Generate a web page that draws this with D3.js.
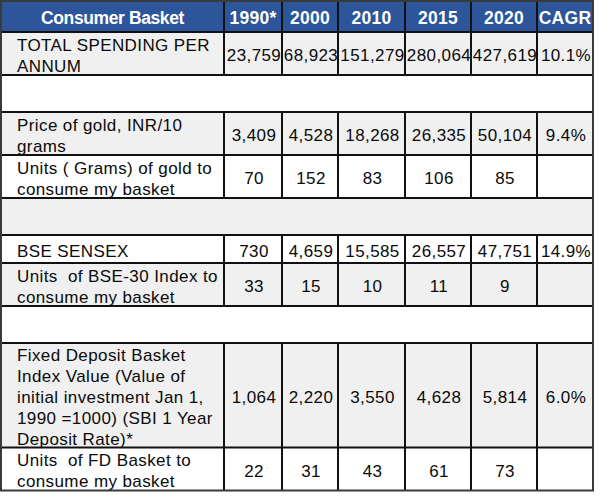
<!DOCTYPE html>
<html><head><meta charset="utf-8">
<script src="https://cdn.jsdelivr.net/npm/d3@7"></script>
<style>
html,body{margin:0;padding:0;background:#fff;}
svg{display:block;}
text{white-space:pre;}
</style></head>
<body>
<svg id="chart" width="608" height="500"></svg>
<script>
// ---- data ----
const headerFirst = "Consumer Basket";
const years = ["1990*", "2000", "2010", "2015", "2020"];
const cagrHeader = "CAGR";

const rowLabels = [
  ["TOTAL SPENDING PER", "ANNUM"],
  [],
  ["Price of gold, INR/10", "grams"],
  ["Units ( Grams) of gold to", "consume my basket"],
  [],
  ["BSE SENSEX"],
  ["Units  of BSE-30 Index to", "consume my basket"],
  [],
  ["Fixed Deposit Basket", "Index Value (Value of", "initial investment Jan 1,", "1990 =1000) (SBI 1 Year", "Deposit Rate)*"],
  ["Units  of FD Basket to", "consume my basket"]
];
const spending = [23759, 68923, 151279, 280064, 427619];
const goldPrice = [3409, 4528, 18268, 26335, 50104];
const goldUnits = [70, 152, 83, 106, 85];
const sensex = [730, 4659, 15585, 26557, 47751];
const sensexUnits = [33, 15, 10, 11, 9];
const fdIndex = [1064, 2220, 3550, 4628, 5814];
const fdUnits = [22, 31, 43, 61, 73];
const rowValues = [spending, null, goldPrice, goldUnits, null, sensex, sensexUnits, null, fdIndex, fdUnits];
const rowCagr = [0.101, null, 0.094, null, null, 0.149, null, null, 0.060, null];
const shaded = [true, false, true, false, true, false, true, false, true, false];

// ---- layout ----
const svg = d3.select("#chart");
const colWidths = [223, 58, 56, 67, 66, 66, 56];
const x0 = 1;
const colEdges = [x0];
colWidths.forEach(w => colEdges.push(colEdges[colEdges.length - 1] + w));
const tableRight = colEdges[colEdges.length - 1];

const headerH = 31;
const rowH = lab => lab.length === 0 ? 37 : lab.length === 1 ? 28 : lab.length * 20.5 + 2;
const yTop = 1;
const rowEdges = [yTop, yTop + headerH];
rowLabels.forEach(l => rowEdges.push(rowEdges[rowEdges.length - 1] + rowH(l)));
const tableBottom = rowEdges[rowEdges.length - 1];

const fmtNum = d3.format(",");
const fmtPct = d3.format(".1%");
const font = "'Liberation Sans', Arial, sans-serif";
const textColor = "#0a0a0a";

// header
svg.append("rect").attr("x", x0).attr("y", yTop).attr("width", tableRight - x0).attr("height", headerH)
  .attr("fill", "#2c559a");
const headers = [headerFirst, ...years, cagrHeader];
svg.selectAll("text.h").data(headers).join("text").attr("class", "h")
  .attr("x", (d, i) => (colEdges[i] + colEdges[i + 1]) / 2)
  .attr("y", yTop + headerH / 2 + 7.5)
  .attr("text-anchor", "middle")
  .attr("font-family", font).attr("font-weight", "bold").attr("font-size", 17.5)
  .attr("letter-spacing", (d, i) => i === 0 ? -0.4 : 0.3)
  .attr("fill", "#ffffff").text(d => d);

// rows
rowLabels.forEach((lab, r) => {
  const top = rowEdges[r + 1], bot = rowEdges[r + 2], h = bot - top, mid = (top + bot) / 2;
  const g = svg.append("g");
  g.append("rect").attr("x", x0).attr("y", top).attr("width", tableRight - x0).attr("height", h)
    .attr("fill", shaded[r] ? "#f0f0f0" : "#ffffff");
  if (lab.length === 0) return;
  const lh = 21;
  const startY = mid - (lab.length - 1) * lh / 2 + 7.5;
  g.selectAll("text.l").data(lab).join("text").attr("class", "l")
    .attr("x", x0 + 16).attr("y", (d, i) => startY + i * lh)
    .attr("font-family", font).attr("font-size", 17).attr("letter-spacing", 0.4)
    .attr("fill", textColor).text(d => d);
  const vals = rowValues[r].map(v => fmtNum(v));
  vals.push(rowCagr[r] == null ? "" : fmtPct(rowCagr[r]));
  g.selectAll("text.v").data(vals).join("text").attr("class", "v")
    .attr("x", (d, i) => (colEdges[i + 1] + colEdges[i + 2]) / 2 + 1)
    .attr("y", mid + 7.5)
    .attr("text-anchor", "middle")
    .attr("font-family", font).attr("font-size", 17).attr("letter-spacing", 0.4)
    .attr("fill", textColor).text(d => d);
});

// grid lines
const lines = svg.append("g").attr("stroke", "#111").attr("stroke-width", 2).attr("fill", "none");
rowEdges.forEach((y, i) => {
  if (i === 0 || i === rowEdges.length - 1) return;
  lines.append("line").attr("x1", x0).attr("x2", tableRight).attr("y1", y).attr("y2", y);
});
const segments = [[rowEdges[0], rowEdges[1]]];
rowLabels.forEach((lab, r) => { if (lab.length) segments.push([rowEdges[r + 1], rowEdges[r + 2]]); });
segments.forEach(([a, b]) => {
  colEdges.slice(1, -1).forEach(x => {
    lines.append("line").attr("x1", x).attr("x2", x).attr("y1", a).attr("y2", b);
  });
});
// outer border
svg.append("rect").attr("x", x0).attr("y", yTop).attr("width", tableRight - x0).attr("height", tableBottom - yTop)
  .attr("fill", "none").attr("stroke", "#3a3a3a").attr("stroke-width", 2);
</script>
</body></html>
